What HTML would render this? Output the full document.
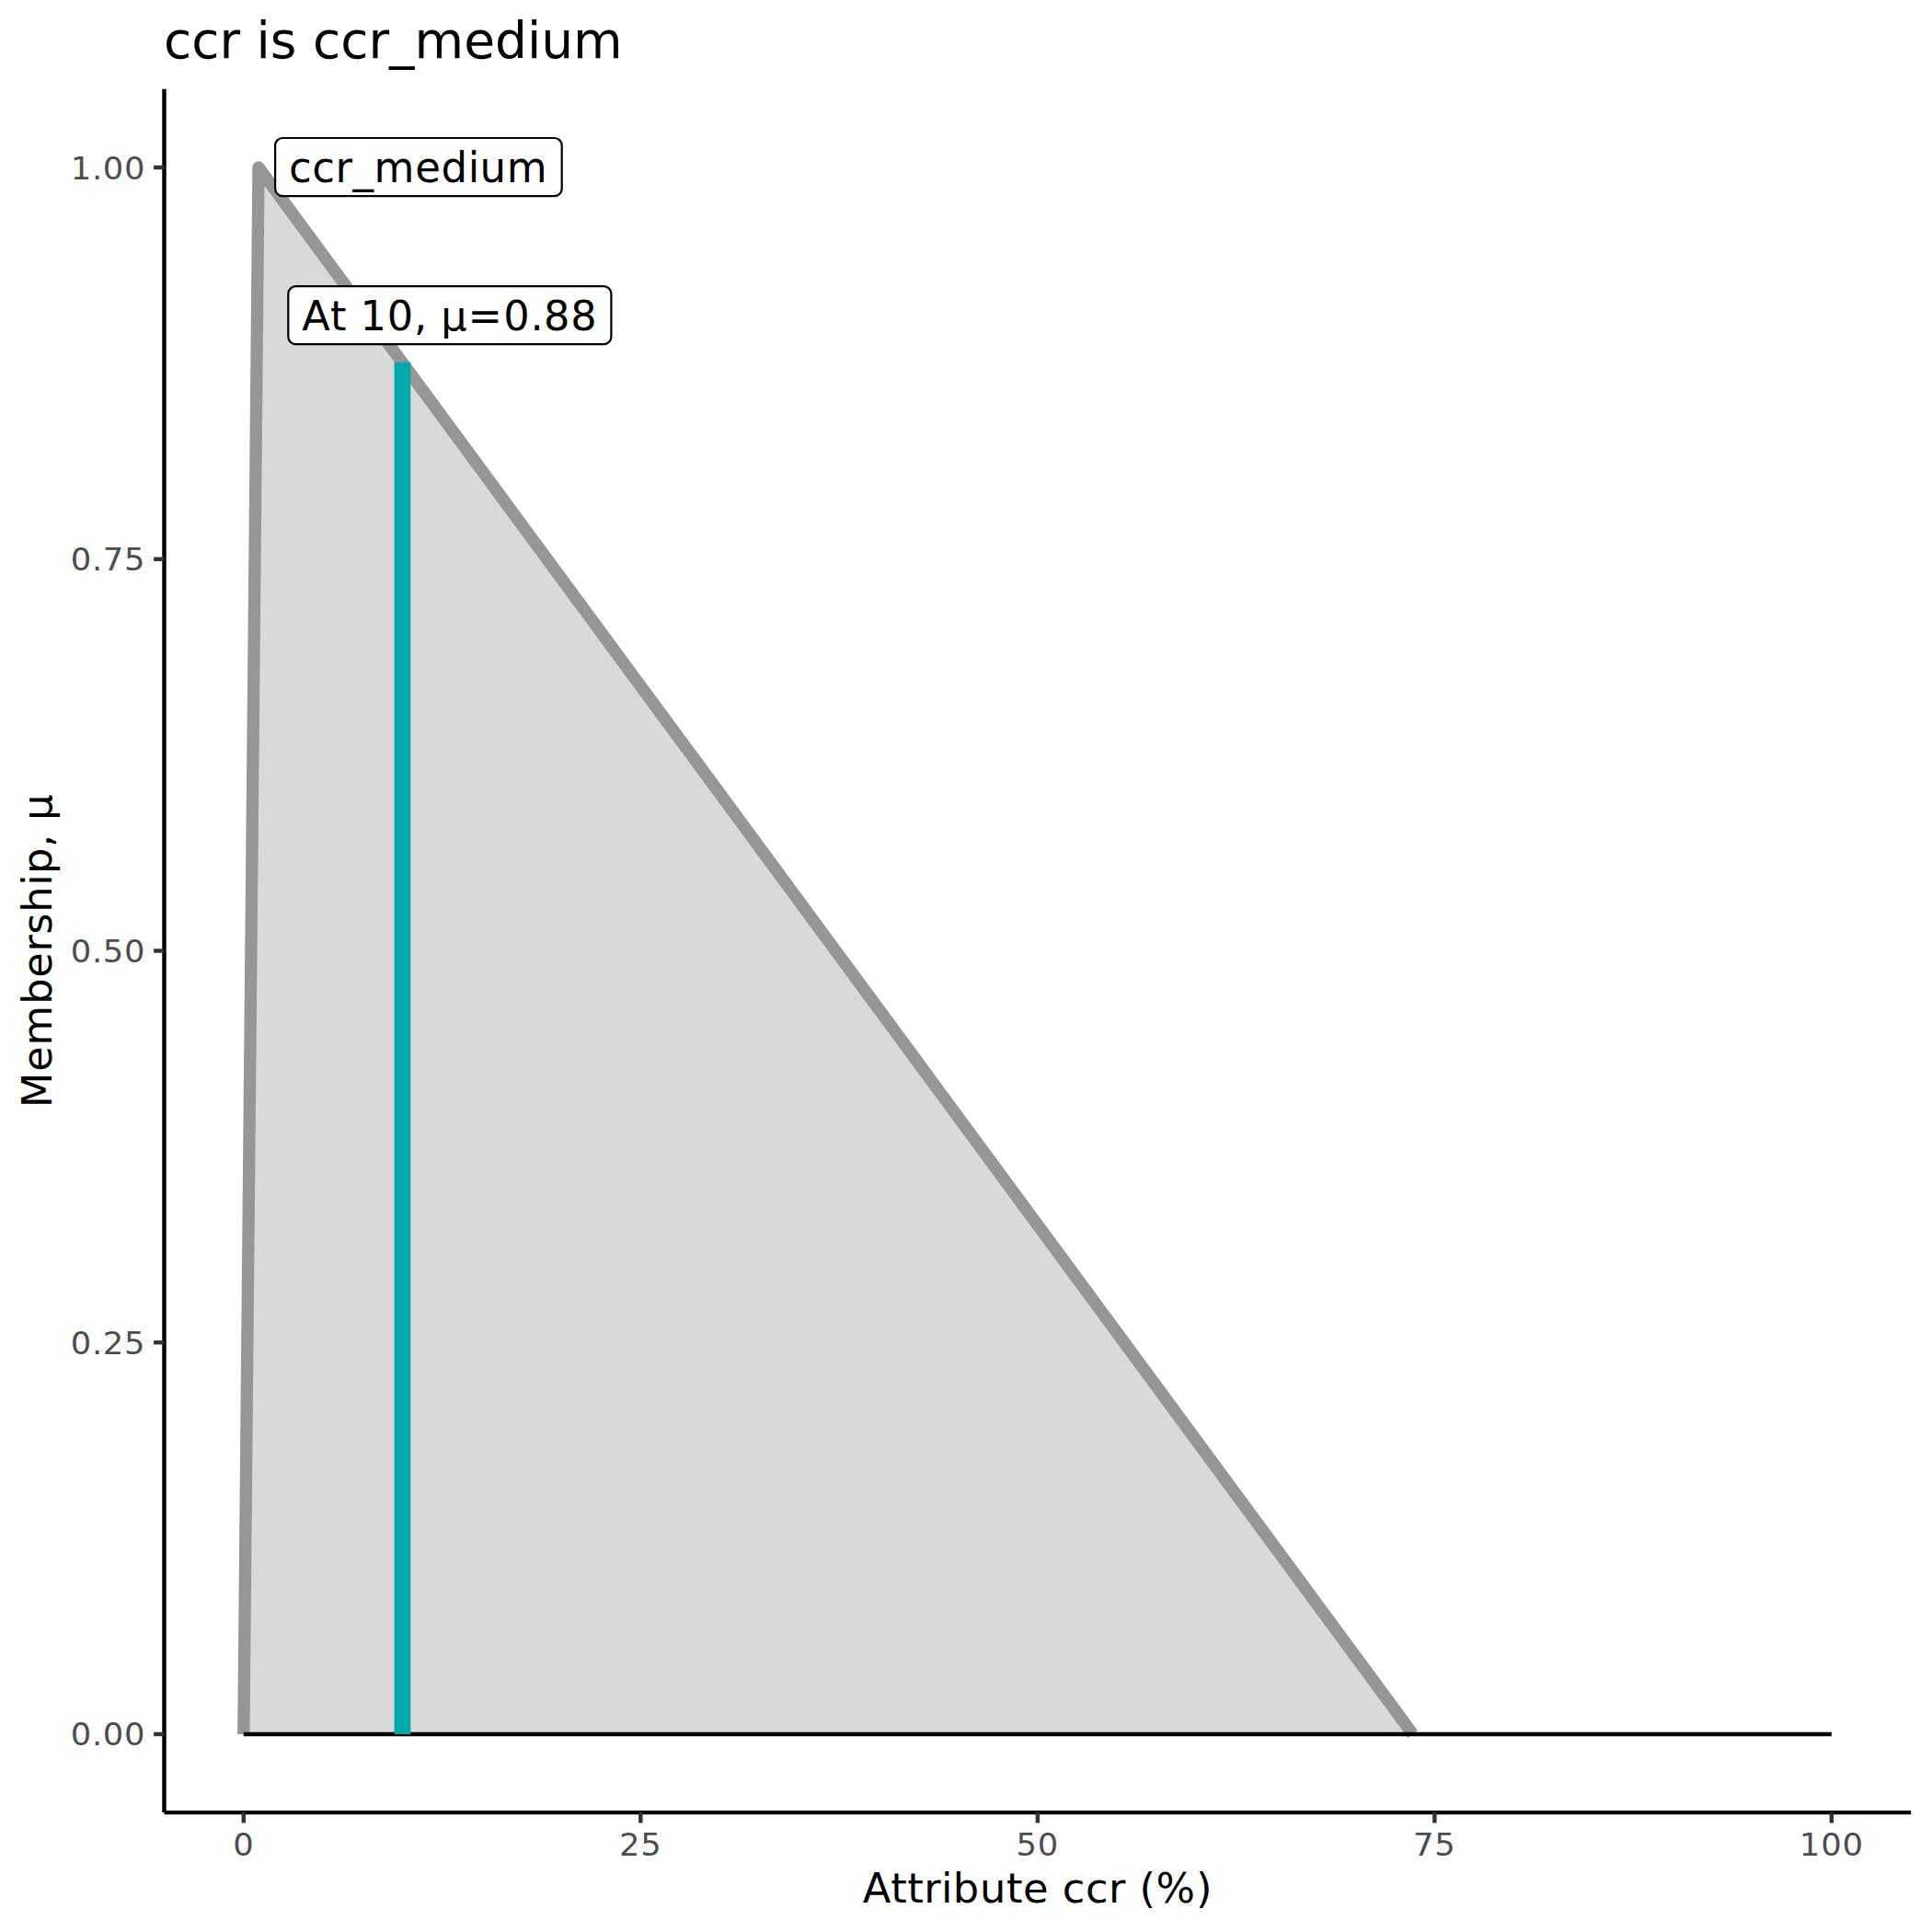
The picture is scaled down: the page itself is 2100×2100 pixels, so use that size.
<!DOCTYPE html>
<html lang="en"><head><meta charset="utf-8"><title>ccr is ccr_medium</title>
<style>html,body{margin:0;padding:0;background:#fff}body{width:2100px;height:2100px;overflow:hidden}svg{display:block}text{font-family:"DejaVu Sans","Liberation Sans",sans-serif;white-space:pre}</style></head><body>
<svg width="2100" height="2100" viewBox="0 0 2100 2100">
<rect width="2100" height="2100" fill="#ffffff"/>
<!-- membership area + outline -->
<polygon points="264.8,1884.95 281,182 1535.65,1884.95" fill="#D9D9D9"/>
<polyline points="264.8,1884.95 281,182 1535.65,1884.95" fill="none" stroke="#969696" stroke-width="13.34" stroke-linejoin="round" stroke-linecap="butt"/>
<!-- zero line and marker at x = 10 -->
<line x1="264.8" y1="1884.95" x2="1990.87" y2="1884.95" stroke="#000" stroke-width="4.45"/>
<line x1="437.41" y1="1884.95" x2="437.41" y2="393.74" stroke="#00AAAA" stroke-width="17.78"/>
<!-- labels -->
<rect x="299.1" y="150" width="311.6" height="63.2" rx="8.2" ry="8.2" fill="#fff" stroke="#000" stroke-width="2.22"/>
<text transform="translate(0,197.9) scale(1,1.0051)" x="314.04 339.32 364.62 383.52 406.52 451.34 479.63 508.84 521.62 550.77" y="0" font-size="45.08" fill="#000">ccr_medium</text>
<rect x="313.3" y="311.2" width="351.1" height="63" rx="8.2" ry="8.2" fill="#fff" stroke="#000" stroke-width="2.22"/>
<text transform="translate(0,359) scale(1,0.9969)" x="328.24 358.9 376.93 391.55 420.82 450.08 464.71 479.33 508.6 547.13 576.4 591.02 620.29" y="0" font-size="44.62" fill="#000">At 10, μ=0.88</text>
<!-- axes -->
<line x1="178.5" y1="96.85" x2="178.5" y2="1970.1" stroke="#000" stroke-width="4.45"/>
<line x1="178.5" y1="1970.1" x2="2077.17" y2="1970.1" stroke="#000" stroke-width="4.45"/>
<line x1="167.09" y1="1884.95" x2="178.5" y2="1884.95" stroke="#333333" stroke-width="4.45"/>
<text transform="translate(0,1897.45) scale(1,0.9679)" x="76.78 100.09 111.74 135.06" y="0" font-size="35.39" fill="#4D4D4D">0.00</text>
<line x1="167.09" y1="1459.21" x2="178.5" y2="1459.21" stroke="#333333" stroke-width="4.45"/>
<text transform="translate(0,1471.71) scale(1,0.9679)" x="76.78 100.09 111.74 135.06" y="0" font-size="35.39" fill="#4D4D4D">0.25</text>
<line x1="167.09" y1="1033.47" x2="178.5" y2="1033.47" stroke="#333333" stroke-width="4.45"/>
<text transform="translate(0,1045.97) scale(1,0.9679)" x="76.78 100.09 111.74 135.06" y="0" font-size="35.39" fill="#4D4D4D">0.50</text>
<line x1="167.09" y1="607.74" x2="178.5" y2="607.74" stroke="#333333" stroke-width="4.45"/>
<text transform="translate(0,620.24) scale(1,0.9679)" x="76.78 100.09 111.74 135.06" y="0" font-size="35.39" fill="#4D4D4D">0.75</text>
<line x1="167.09" y1="182" x2="178.5" y2="182" stroke="#333333" stroke-width="4.45"/>
<text transform="translate(0,194.5) scale(1,0.9679)" x="76.78 100.09 111.74 135.06" y="0" font-size="35.39" fill="#4D4D4D">1.00</text>
<line x1="264.8" y1="1970.1" x2="264.8" y2="1981.51" stroke="#333333" stroke-width="4.45"/>
<text transform="translate(0,2016.5) scale(1,0.9679)" x="253.14" y="0" font-size="35.39" fill="#4D4D4D">0</text>
<line x1="696.32" y1="1970.1" x2="696.32" y2="1981.51" stroke="#333333" stroke-width="4.45"/>
<text transform="translate(0,2016.5) scale(1,0.9679)" x="672.99 696.3" y="0" font-size="35.39" fill="#4D4D4D">25</text>
<line x1="1127.84" y1="1970.1" x2="1127.84" y2="1981.51" stroke="#333333" stroke-width="4.45"/>
<text transform="translate(0,2016.5) scale(1,0.9679)" x="1104.51 1127.82" y="0" font-size="35.39" fill="#4D4D4D">50</text>
<line x1="1559.35" y1="1970.1" x2="1559.35" y2="1981.51" stroke="#333333" stroke-width="4.45"/>
<text transform="translate(0,2016.5) scale(1,0.9679)" x="1536.02 1559.34" y="0" font-size="35.39" fill="#4D4D4D">75</text>
<line x1="1990.87" y1="1970.1" x2="1990.87" y2="1981.51" stroke="#333333" stroke-width="4.45"/>
<text transform="translate(0,2016.5) scale(1,0.9679)" x="1955.88 1979.19 2002.52" y="0" font-size="35.39" fill="#4D4D4D">100</text>
<!-- titles -->
<text x="178 208.23 238.47 261.08 278.56 293.84 322.5 339.98 370.22 400.47 423.08 450.58 504.16 537.98 572.91 588.19 623.05" y="63" font-size="55" fill="#000">ccr is ccr_medium</text>
<text transform="translate(0,2068.3) scale(1,1.0103)" x="937.82 968.35 986.32 1004.29 1023.13 1035.87 1064.96 1094.01 1111.98 1140.16 1154.74 1179.93 1205.13 1223.98 1238.54 1256.41 1299.96" y="0" font-size="44.68" fill="#000">Attribute ccr (%)</text>
<text transform="translate(56,1033.47) rotate(-90) scale(1,1.0103)" x="-170.77 -131.24 -103.04 -58.4 -29.32 -1.12 17.73 41.6 70.65 83.38 112.46 127.04 141.6" y="0" font-size="44.68" fill="#000">Membership, μ</text>
</svg></body></html>
